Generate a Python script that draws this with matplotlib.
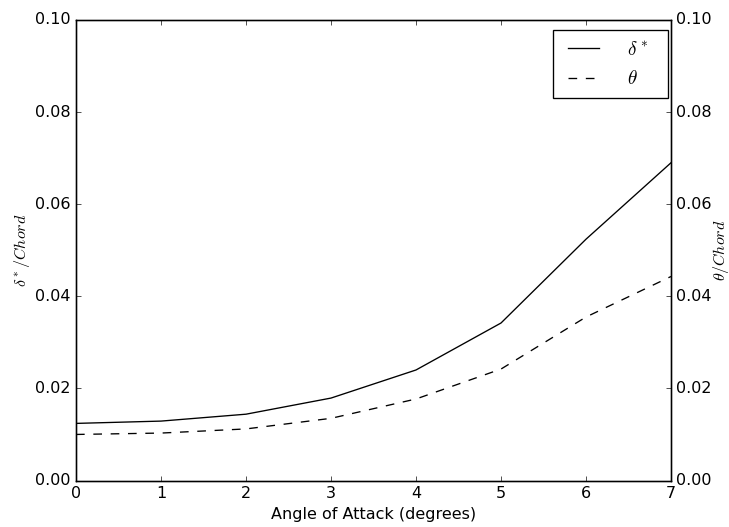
import matplotlib
matplotlib.use("Agg")
import matplotlib.pyplot as plt

plt.style.use('classic')
plt.rcParams['figure.facecolor'] = 'white'
plt.rcParams['savefig.facecolor'] = 'white'
plt.rcParams['mathtext.fontset'] = 'cm'

alpha = [0, 1, 2, 3, 4, 5, 6, 7]
delta_star = [0.0124, 0.0129, 0.0144, 0.0179, 0.0240, 0.0342, 0.0524, 0.0690]
theta = [0.0100, 0.0103, 0.0112, 0.0135, 0.0177, 0.0242, 0.0355, 0.0443]

W, H, DPI = 729, 527, 96
fig = plt.figure(figsize=(W/DPI, H/DPI), dpi=DPI)
ax = fig.add_axes([76/W, 1-480.5/H, (671-76)/W, (480.5-20)/H])
ax2 = ax.twinx()

l1, = ax.plot(alpha, delta_star, 'k-', lw=1.0)
l2, = ax2.plot(alpha, theta, 'k--', lw=1.0, dashes=(6.5, 6.5))

ax.set_xlim(0, 7)
ax.set_ylim(0, 0.10)
ax2.set_ylim(0, 0.10)
ax.set_xticks(range(8))
ax.set_yticks([0, 0.02, 0.04, 0.06, 0.08, 0.10])
ax2.set_yticks([0, 0.02, 0.04, 0.06, 0.08, 0.10])
ax.set_xlabel('Angle of Attack (degrees)')
ax.set_ylabel(r'$\delta^*/Chord$', labelpad=2.5)
ax2.set_ylabel(r'$\theta/Chord$', labelpad=-0.5)

fs = 14.4
fpx = fs * DPI / 72
pad_px = 0.3 * fpx * 2
x0, x1, y0, y1 = 552.7, 668.3, 98.7, 30
leg = ax2.legend([l1, l2], [r'$\delta^*$', r'$\theta$'], loc='upper left',
                 bbox_to_anchor=(x0/W, 1-y0/H, (x1-x0)/W, (y0-y1)/H),
                 bbox_transform=fig.transFigure, mode='expand',
                 borderaxespad=0, fontsize=fs, borderpad=0.5, labelspacing=0.56,
                 handlelength=(31 + pad_px)/fpx, handletextpad=(33 - pad_px + 1)/fpx)

fig.savefig('out.png', dpi=DPI)
